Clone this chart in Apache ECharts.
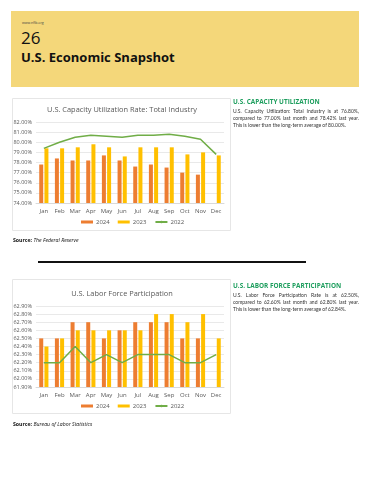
<!DOCTYPE html>
<html>
<head>
<meta charset="utf-8">
<script src="https://cdn.jsdelivr.net/npm/echarts@6/dist/echarts.min.js"></script>
<style>
  html, body { margin: 0; padding: 0; background: #ffffff; width: 370px; height: 480px; overflow: hidden; }
  #chart { position: absolute; left: 0; top: 0; width: 370px; height: 480px; }
  .abs { position: absolute; font-family: 'Open Sans', 'Liberation Sans', sans-serif; }
  #banner { left: 11px; top: 11px; width: 348px; height: 76px; background: #F4D77A; }
  .hdr { color: #1E9E5E; font-weight: bold; font-size: 6.4px; white-space: nowrap; }
  .para { color: #333; font-size: 5px; line-height: 7px; width: 126px; font-family: 'Lato', 'Open Sans', sans-serif; }
  .para .j { text-align: justify; text-align-last: justify; white-space: nowrap; }
  .src { font-size: 5.2px; color: #111; white-space: nowrap; }
</style>
</head>
<body>
<div id="chart"></div>
<div id="banner" class="abs">
  <div class="abs" style="left:11px;top:9px;font-size:3.5px;color:#444;">www.nfib.org</div>
  <div class="abs" style="left:10px;top:15px;font-size:17px;color:#111;">26</div>
  <div class="abs" style="left:10px;top:37px;font-size:13px;color:#111;font-weight:bold;white-space:nowrap;">U.S. Economic Snapshot</div>
</div>
<div class="abs hdr" style="left:233px;top:97px;">U.S. CAPACITY UTILIZATION</div>
<div class="abs para" style="left:233px;top:108px;">
  <div class="j">U.S. Capacity Utilization: Total Industry is at 76.80%,</div>
  <div class="j">compared to 77.00% last month and 78.42% last year.</div>
  <div>This is lower than the long-term average of 80.00%.</div>
</div>
<div class="abs src" style="left:13px;top:236px;"><b>Source:</b> <i>The Federal Reserve</i></div>
<div class="abs" style="left:38px;top:261px;width:268px;height:1.5px;background:#111;"></div>
<div class="abs hdr" style="left:233px;top:281px;">U.S. LABOR FORCE PARTICIPATION</div>
<div class="abs para" style="left:233px;top:292px;">
  <div class="j">U.S. Labor Force Participation Rate is at 62.50%,</div>
  <div class="j">compared to 62.60% last month and 62.80% last year.</div>
  <div>This is lower than the long-term average of 62.84%.</div>
</div>
<div class="abs src" style="left:13px;top:420px;"><b>Source:</b> <i>Bureau of Labor Statistics</i></div>
<script>
const months = ['Jan','Feb','Mar','Apr','May','Jun','Jul','Aug','Sep','Oct','Nov','Dec'];
const seriesNames = ['2024','2023','2022'];

const capTitle = 'U.S. Capacity Utilization Rate: Total Industry';
const cap2024 = [77.8, 78.4, 78.2, 78.2, 78.7, 78.2, 77.6, 77.8, 77.5, 77.0, 76.8, null];
const cap2023 = [79.4, 79.4, 79.5, 79.8, 79.5, 78.6, 79.5, 79.5, 79.5, 78.8, 79.0, 78.7];
const cap2022 = [79.4, 80.0, 80.5, 80.7, 80.6, 80.5, 80.7, 80.7, 80.8, 80.6, 80.3, 78.8];
const capTicks = { min: 74, max: 82, interval: 1 };

const lfpTitle = 'U.S. Labor Force Participation';
const lfp2024 = [62.5, 62.5, 62.7, 62.7, 62.5, 62.6, 62.7, 62.7, 62.7, 62.5, 62.5, null];
const lfp2023 = [62.4, 62.5, 62.6, 62.6, 62.6, 62.6, 62.6, 62.8, 62.8, 62.7, 62.8, 62.5];
const lfp2022 = [62.2, 62.2, 62.4, 62.2, 62.3, 62.2, 62.3, 62.3, 62.3, 62.2, 62.2, 62.3];
const lfpTicks = { min: 61.9, max: 62.9, interval: 0.1 };

const colors = ['#ED7D31', '#FFC000', '#70AD47'];
const font = 'Open Sans';
const labelColor = '#595959';

function xAxis(gi) {
  return {
    type: 'category', gridIndex: gi, data: months,
    axisLine: { lineStyle: { color: '#D9D9D9' } },
    axisTick: { show: false },
    axisLabel: { fontSize: 6, color: labelColor, fontFamily: font, margin: 5 }
  };
}
function yAxis(gi, t) {
  return {
    type: 'value', gridIndex: gi, min: t.min, max: t.max, interval: t.interval,
    axisLine: { show: false }, axisTick: { show: false },
    splitLine: { lineStyle: { color: '#E3E3E3', width: 0.8 } },
    axisLabel: { fontSize: 5.5, color: labelColor, fontFamily: font, margin: 4,
      formatter: v => v.toFixed(2) + '%' }
  };
}
function series(gi, d24, d23, d22) {
  return [
    { name: seriesNames[0], type: 'bar', xAxisIndex: gi, yAxisIndex: gi, data: d24,
      barWidth: 4, barGap: '30%', itemStyle: { color: colors[0] } },
    { name: seriesNames[1], type: 'bar', xAxisIndex: gi, yAxisIndex: gi, data: d23,
      barWidth: 4, barGap: '30%', itemStyle: { color: colors[1] } },
    { name: seriesNames[2], type: 'line', xAxisIndex: gi, yAxisIndex: gi, data: d22,
      symbol: 'none', showSymbol: false, lineStyle: { color: colors[2], width: 1.5 },
      itemStyle: { color: colors[2] } }
  ];
}
function legend(top) {
  return {
    top: top, left: 81, itemWidth: 12, itemHeight: 3, itemGap: 8, padding: 0,
    textStyle: { fontSize: 6, color: labelColor, fontFamily: font, padding: [0, 0, 0, -2] },
    data: [{ name: '2024', icon: 'rect' }, { name: '2023', icon: 'rect' }, { name: '2022' }],
    selectedMode: false
  };
}

const chart = echarts.init(document.getElementById('chart'), null, { renderer: 'canvas' });
chart.setOption({
  animation: false,
  backgroundColor: 'transparent',
  grid: [
    { left: 36, top: 122, width: 188, height: 81 },
    { left: 36, top: 306, width: 188, height: 81 }
  ],
  xAxis: [xAxis(0), xAxis(1)],
  yAxis: [yAxis(0, capTicks), yAxis(1, lfpTicks)],
  legend: [legend(219), legend(403)],
  series: [].concat(series(0, cap2024, cap2023, cap2022), series(1, lfp2024, lfp2023, lfp2022)),
  graphic: [
    { type: 'rect', shape: { x: 12.5, y: 98.5, width: 218, height: 132 }, style: { fill: 'none', stroke: '#E6E6E6', lineWidth: 1 }, z: -1 },
    { type: 'rect', shape: { x: 12.5, y: 279.5, width: 218, height: 134 }, style: { fill: 'none', stroke: '#E6E6E6', lineWidth: 1 }, z: -1 },
    { type: 'text', x: 122, y: 110, style: { text: capTitle, font: '7.4px "Open Sans"', fill: '#595959', textAlign: 'center', textVerticalAlign: 'middle' } },
    { type: 'text', x: 122, y: 294, style: { text: lfpTitle, font: '7.4px "Open Sans"', fill: '#595959', textAlign: 'center', textVerticalAlign: 'middle' } }
  ]
});
</script>
</body>
</html>
